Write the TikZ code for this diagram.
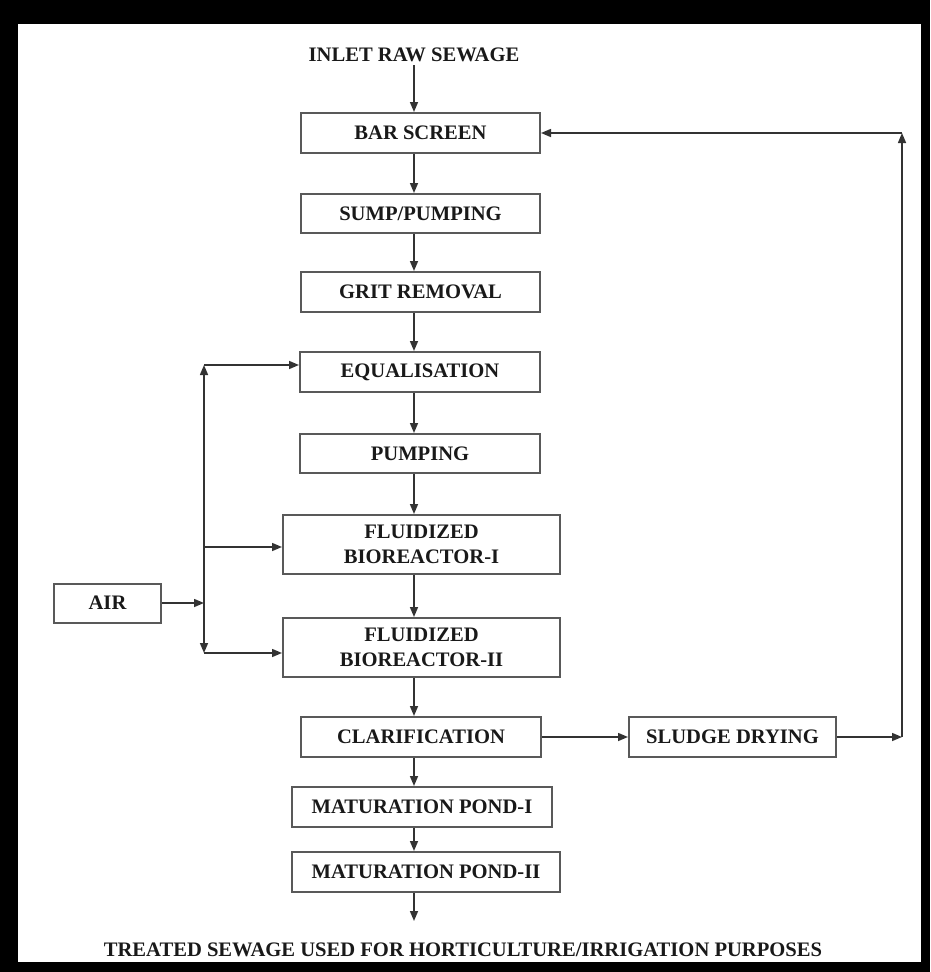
\documentclass[tikz,border=0pt]{standalone}
\usepackage{fontspec}
\setmainfont{Liberation Serif}
\usetikzlibrary{arrows.meta,calc}
\begin{document}
\begin{tikzpicture}[x=1pt,y=-1pt,
  font=\bfseries\fontsize{20.6}{25}\selectfont,
  box/.style={draw=black!65, line width=2pt, fill=white, inner sep=0pt, align=center, text=black!90},
  lbl/.style={inner sep=3pt, text=black!90},
  arr/.style={-{Triangle[length=10pt,width=8pt]}, line width=1.5pt, draw=black!80}]
\fill[black] (0,0) rectangle (930,972);
\fill[white] (18,24) rectangle (921,962);
\useasboundingbox (0,0) rectangle (930,972);

\node[lbl] (inlet) at (414,55) {INLET RAW SEWAGE};
\node[box,minimum width=239pt,minimum height=40pt] (bar) at (420.5,133) {BAR SCREEN};
\node[box,minimum width=239pt,minimum height=39pt] (sump) at (420.5,213.5) {SUMP/PUMPING};
\node[box,minimum width=239pt,minimum height=40pt] (grit) at (420.5,292) {GRIT REMOVAL};
\node[box,minimum width=240pt,minimum height=40pt] (equal) at (420,372) {EQUALISATION};
\node[box,minimum width=240pt,minimum height=39pt] (pump) at (420,453.5) {PUMPING};
\node[box,minimum width=277pt,minimum height=59pt] (fbr1) at (421.5,544.5) {FLUIDIZED\\BIOREACTOR-I};
\node[box,minimum width=277pt,minimum height=59pt] (fbr2) at (421.5,647.5) {FLUIDIZED\\BIOREACTOR-II};
\node[box,minimum width=240pt,minimum height=40pt] (clar) at (421,737) {CLARIFICATION};
\node[box,minimum width=207pt,minimum height=40pt] (sludge) at (732.5,737) {SLUDGE DRYING};
\node[box,minimum width=260pt,minimum height=40pt] (mp1) at (422,807) {MATURATION POND-I};
\node[box,minimum width=268pt,minimum height=40pt] (mp2) at (426,872) {MATURATION POND-II};
\node[box,minimum width=107pt,minimum height=39pt] (air) at (107.5,603) {AIR};
\node[lbl] (treated) at (463,950) {TREATED SEWAGE USED FOR HORTICULTURE/IRRIGATION PURPOSES};

\coordinate (outend) at (414,921);
\coordinate (btop) at (204,365);
\coordinate (bmid) at (204,603);
\coordinate (b1) at (204,547);
\coordinate (bbot) at (204,653);
\coordinate (rb) at (902,737);
\coordinate (rt) at (902,133);

\draw[arr] (inlet.south) -- (bar.north -| inlet);
\draw[arr] (bar.south -| inlet) -- (sump.north -| inlet);
\draw[arr] (sump.south -| inlet) -- (grit.north -| inlet);
\draw[arr] (grit.south -| inlet) -- (equal.north -| inlet);
\draw[arr] (equal.south -| inlet) -- (pump.north -| inlet);
\draw[arr] (pump.south -| inlet) -- (fbr1.north -| inlet);
\draw[arr] (fbr1.south -| inlet) -- (fbr2.north -| inlet);
\draw[arr] (fbr2.south -| inlet) -- (clar.north -| inlet);
\draw[arr] (clar.south -| inlet) -- (mp1.north -| inlet);
\draw[arr] (mp1.south -| inlet) -- (mp2.north -| inlet);
\draw[arr] (mp2.south -| inlet) -- (outend);

\draw[arr] (air.east) -- (bmid);
\draw[arr] (bmid) -- (btop);
\draw[arr] (bmid) -- (bbot);
\draw[arr] (btop) -- (btop -| equal.west);
\draw[arr] (b1) -- (b1 -| fbr1.west);
\draw[arr] (bbot) -- (bbot -| fbr2.west);

\draw[arr] (clar.east) -- (sludge.west);
\draw[arr] (sludge.east) -- (rb);
\draw[arr] (rb) -- (rt);
\draw[arr] (rt) -- (bar.east);
\end{tikzpicture}
\end{document}
